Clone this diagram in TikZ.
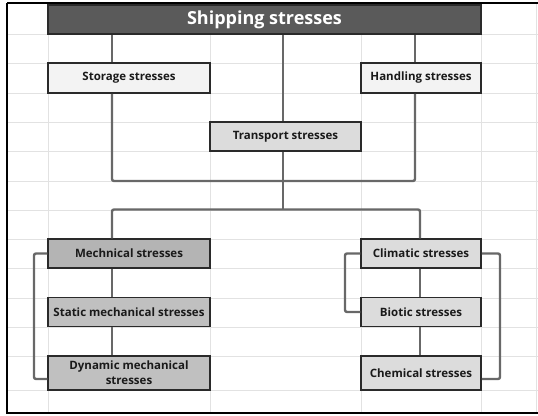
\documentclass[tikz,border=0pt]{standalone}
\usepackage{fontspec}
\setmainfont{Open Sans}
\usetikzlibrary{calc}
\definecolor{shipfill}{HTML}{5A5A5A}
\definecolor{palefill}{HTML}{F3F3F3}
\definecolor{lightfill}{HTML}{DCDCDC}
\definecolor{midfill}{HTML}{B4B4B4}
\definecolor{statfill}{HTML}{C0C0C0}
\definecolor{boxline}{HTML}{2A2A2A}
\definecolor{linkcol}{HTML}{686868}
\definecolor{gridcol}{HTML}{E2E2E2}
\definecolor{txtcol}{HTML}{1A1A1A}
\tikzset{
  stressbox/.style={draw=boxline, line width=1.5pt, inner sep=0pt, align=center,
    font=\fontsize{11.5}{14}\selectfont\bfseries, text=txtcol},
  link/.style={draw=linkcol, line width=2.4pt, rounded corners=2pt},
  gridline/.style={draw=gridcol, line width=0.8pt}
}
\begin{document}
\begin{tikzpicture}[x=1pt,y=-1pt]
\useasboundingbox (0,0) rectangle (538,415);
\fill[white] (0,0) rectangle (538,415);
% grid
\foreach \gx in {48,210,361,481,536} \draw[gridline] (\gx,3) -- (\gx,413);
\foreach \gy in {34,63,93,122,151,181,210,239,268,298,327,356,390} \draw[gridline] (7,\gy) -- (538,\gy);
% frame
\draw[black, line width=2pt] (7,3) -- (538,3);
\draw[black, line width=1.3pt] (7,3) -- (7,413) -- (538,413);
% connector columns and buses
\coordinate (xl) at (112,0);
\coordinate (xm) at (283,0);
\coordinate (xr) at (415,0);
\coordinate (xrr) at (420,0);
\coordinate (busa) at (0,181);
\coordinate (busb) at (0,209.5);
\coordinate (xlb) at (34,0);
\coordinate (xcl) at (345,0);
\coordinate (xcr) at (500,0);
% boxes
\node[stressbox, fill=shipfill, text=white, minimum width=433pt, minimum height=29pt,
  font=\fontsize{18}{20}\selectfont\bfseries] (ship) at (264.5,19.5) {Shipping stresses};
\node[stressbox, fill=palefill, minimum width=162pt, minimum height=30pt] (storage) at (129,78) {Storage stresses};
\node[stressbox, fill=palefill, minimum width=120pt, minimum height=30pt] (handling) at (421,78) {Handling stresses};
\node[stressbox, fill=lightfill, minimum width=151pt, minimum height=29pt] (transport) at (285.5,136.5) {Transport stresses};
\node[stressbox, fill=midfill, minimum width=162pt, minimum height=29pt] (mech) at (129,253.5) {Mechnical stresses};
\node[stressbox, fill=statfill, minimum width=162pt, minimum height=29pt] (static) at (129,312) {Static mechanical stresses};
\node[stressbox, fill=statfill, minimum width=162pt, minimum height=34pt,
  font=\fontsize{11.5}{15}\selectfont\bfseries] (dyn) at (129,373) {Dynamic mechanical\\stresses};
\node[stressbox, fill=lightfill, minimum width=120pt, minimum height=29pt] (clim) at (421,253.5) {Climatic stresses};
\node[stressbox, fill=lightfill, minimum width=120pt, minimum height=29pt] (biotic) at (421,312) {Biotic stresses};
\node[stressbox, fill=lightfill, minimum width=120pt, minimum height=34pt] (chem) at (421,373) {Chemical stresses};
\draw[link] (ship.south -| xl) -- (storage.north -| xl);
\draw[link] (ship.south -| xm) -- (transport.north -| xm);
\draw[link] (ship.south -| xr) -- (handling.north -| xr);
\draw[link] (storage.south -| xl) -- (xl |- busa) -- (xr |- busa) -- (handling.south -| xr);
\draw[link] (transport.south -| xm) -- (xm |- busb);
\draw[link] (mech.north -| xl) -- (xl |- busb) -- (xrr |- busb) -- (clim.north -| xrr);
\draw[link] (mech.south -| xl) -- (static.north -| xl);
\draw[link] (static.south -| xl) -- (dyn.north -| xl);
\draw[link] (mech.west) -- (xlb |- mech.west) -- ($(xlb |- dyn.west)+(0,6)$) -- ($(dyn.west)+(0,6)$);
\draw[link] (clim.south -| xrr) -- (biotic.north -| xrr);
\draw[link] (biotic.south -| xrr) -- (chem.north -| xrr);
\draw[link] (clim.west) -- (xcl |- clim.west) -- (xcl |- biotic.west) -- (biotic.west);
\draw[link] (clim.east) -- (xcr |- clim.east) -- ($(xcr |- chem.east)+(0,6)$) -- ($(chem.east)+(0,6)$);
\end{tikzpicture}
\end{document}
